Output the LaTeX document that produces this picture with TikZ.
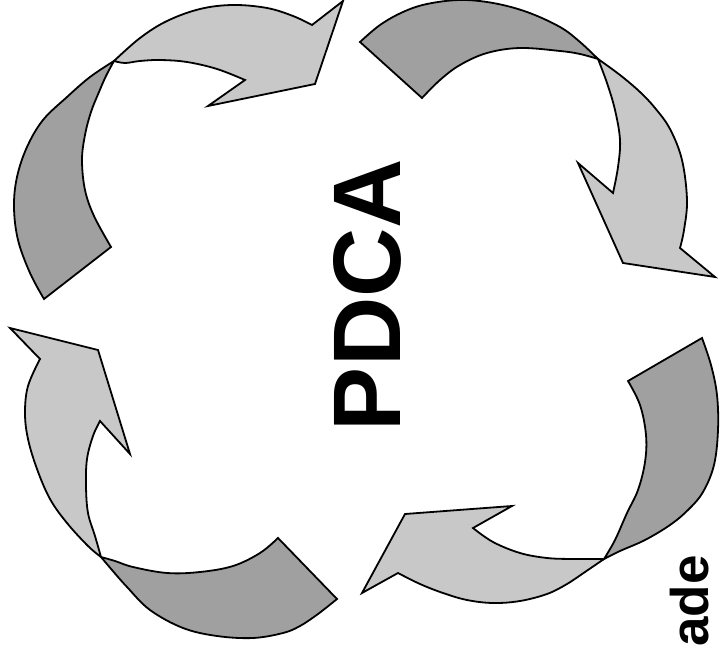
\documentclass[tikz,border=0pt]{standalone}
\usepackage{fontspec}
\setmainfont{Liberation Sans}
\definecolor{ribdark}{RGB}{160,160,160}
\definecolor{riblight}{RGB}{200,200,200}
\tikzset{
  darkpart/.style={fill=ribdark, draw=black, line width=1.8pt, line join=miter},
  lightpart/.style={fill=riblight, draw=black, line width=1.8pt, line join=miter},
  sm/.style={smooth, tension=0.6}
}
\begin{document}
\begin{tikzpicture}[x=1pt, y=-1pt]
\useasboundingbox (0,0) rectangle (720,652);
\clip (0,0) rectangle (720,652);
% Arrow 1 (top-left)
\path[darkpart] plot[sm] coordinates {(44,299) (30,273) (18,240) (14,207) (17,177) (27,147) (43,120) (67,97) (90,77) (114,61)}
  -- plot[sm] coordinates {(114,61) (106,76) (99,92) (91,112) (85,135) (82,160) (85,190) (94,216) (111,247)} -- cycle;
\path[lightpart] plot[sm] coordinates {(114,61) (140,38) (167,21) (200,9) (233,5) (267,8) (293,16) (312,25)}
  -- (343,1) -- (315,84) -- (208,106) -- (245,80)
  -- plot[sm] coordinates {(245,80) (217,69) (187,62) (160,60) (140,61) (125,63) (114,61)} -- cycle;
% Arrow 2 (top-right)
\path[darkpart] plot[sm] coordinates {(360,42) (380,25) (403,12) (427,4) (460,0) (493,3) (527,12) (560,27) (580,42) (598,59)}
  -- plot[sm] coordinates {(598,59) (580,54) (560,51) (520,48) (487,53) (460,65) (440,80) (422,98)} -- cycle;
\path[lightpart] plot[sm] coordinates {(598,59) (620,75) (640,92) (655,108) (670,129) (682,160) (687,200) (684,230) (680,248)}
  -- (715,277) -- (623,263) -- (578,163) -- (613,193)
  -- plot[sm] coordinates {(613,193) (618,167) (620,140) (615,110) (607,83) (598,59)} -- cycle;
% Arrow 3 (bottom-right)
\path[darkpart] plot[sm] coordinates {(702,338) (711,365) (717,395) (718,430) (714,465) (703,492) (688,510) (670,525) (645,540) (620,551) (604,559)}
  -- plot[sm] coordinates {(604,559) (615,540) (627,513) (638,490) (645,462) (646,435) (640,405) (628,381)} -- cycle;
\path[lightpart] plot[sm] coordinates {(604,559) (585,572) (567,584) (547,594) (520,601) (493,603) (467,600) (443,593) (420,584) (398,573)}
  -- (362,593) -- (405,514) -- (512,506) -- (473,528)
  -- plot[sm] coordinates {(473,528) (493,542) (520,553) (547,558) (573,559) (604,559)} -- cycle;
% Arrow 4 (bottom-left)
\path[darkpart] plot[sm] coordinates {(337,599) (318,614) (300,626) (283,633) (253,638) (217,636) (183,628) (150,610) (127,587) (112,570) (101,557)}
  -- plot[sm] coordinates {(101,557) (115,561) (133,567) (167,573) (200,572) (233,566) (260,553) (278,538)} -- cycle;
\path[lightpart] plot[sm] coordinates {(101,557) (88,546) (67,523) (50,499) (37,469) (28,439) (25,413) (28,386) (40,359)}
  -- (10,328) -- (98,350) -- (130,454) -- (100,421)
  -- plot[sm] coordinates {(100,421) (93,436) (87,459) (86,486) (88,513) (95,536) (101,557)} -- cycle;
% Texts
\node[rotate=90, inner sep=0pt, font=\fontsize{96}{96}\selectfont\bfseries] (pdca) at (367.5,295) {PDCA};
\node[rotate=90, anchor=base east, inner sep=0pt, font=\fontsize{53}{53}\selectfont\bfseries] (ade) at (708.5,555) {ade};
\end{tikzpicture}
\end{document}
